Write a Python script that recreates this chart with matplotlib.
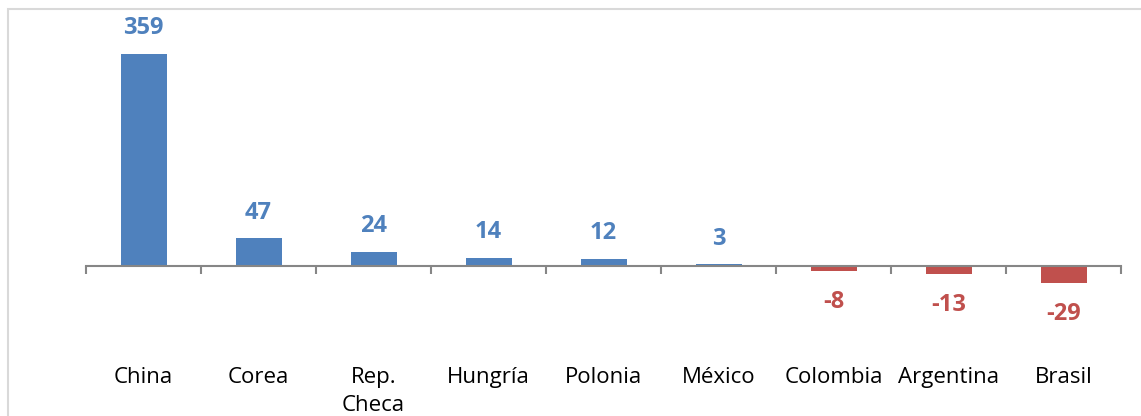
import matplotlib.pyplot as plt
import matplotlib.transforms as mtransforms
from matplotlib.patches import Rectangle
import numpy as np

plt.rcParams['font.family'] = ['Open Sans', 'DejaVu Sans']

# Data
countries = ['China', 'Corea', 'Rep.\nCheca', 'Hungría', 'Polonia', 'México',
             'Colombia', 'Argentina', 'Brasil']
values = [359, 47, 24, 14, 12, 3, -8, -13, -29]

blue = '#4F81BD'
red = '#C0504D'

W, H = 1141, 416
fig = plt.figure(figsize=(W / 100, H / 100), dpi=100)

# axes placed in pixel terms: x 86..1121, y 20..340 (from top)
ax = fig.add_axes([86 / W, 1 - 340 / H, (1121 - 86) / W, 320 / H])

x = np.arange(len(countries))
colors = [blue if v >= 0 else red for v in values]
ax.bar(x, values, width=0.4, color=colors)

# value labels
for xi, v, c in zip(x, values, colors):
    off = 18.5 if v >= 0 else -22.5
    ax.annotate(str(v), (xi, v), xytext=(0, off), textcoords='offset points',
                ha='center', va='center', fontsize=17, fontweight='bold', color=c)

px = 0.5905
ax.set_xlim(-0.5, len(countries) - 0.5)
ax.set_ylim(-(340 - 266) / px, (266 - 20) / px)

for s in ['top', 'right', 'left']:
    ax.spines[s].set_visible(False)
ax.spines['bottom'].set_position(('data', 0))
ax.spines['bottom'].set_color('#868686')
ax.spines['bottom'].set_linewidth(1.5)

ax.set_yticks([])
ax.set_xticks(np.arange(-0.5, len(countries), 1.0), minor=True)
ax.set_xticks([])
ax.tick_params(axis='x', which='minor', direction='out', length=5.5,
               width=1.5, color='#868686')
ax.patch.set_visible(False)

# category labels under the chart
trans = mtransforms.blended_transform_factory(ax.transData, fig.transFigure)
for xi, name in zip(x, countries):
    ax.text(xi, 1 - 367 / H, name, transform=trans, ha='center', va='top',
            fontsize=16, color='black', linespacing=1.45)

# light chart frame
fig.patches.append(Rectangle((8 / W, -0.1), 1.2, 1 - 9 / H + 0.1,
                             transform=fig.transFigure, fill=False,
                             edgecolor='#D9D9D9', linewidth=1.5))

fig.savefig('out.png', dpi=100)
